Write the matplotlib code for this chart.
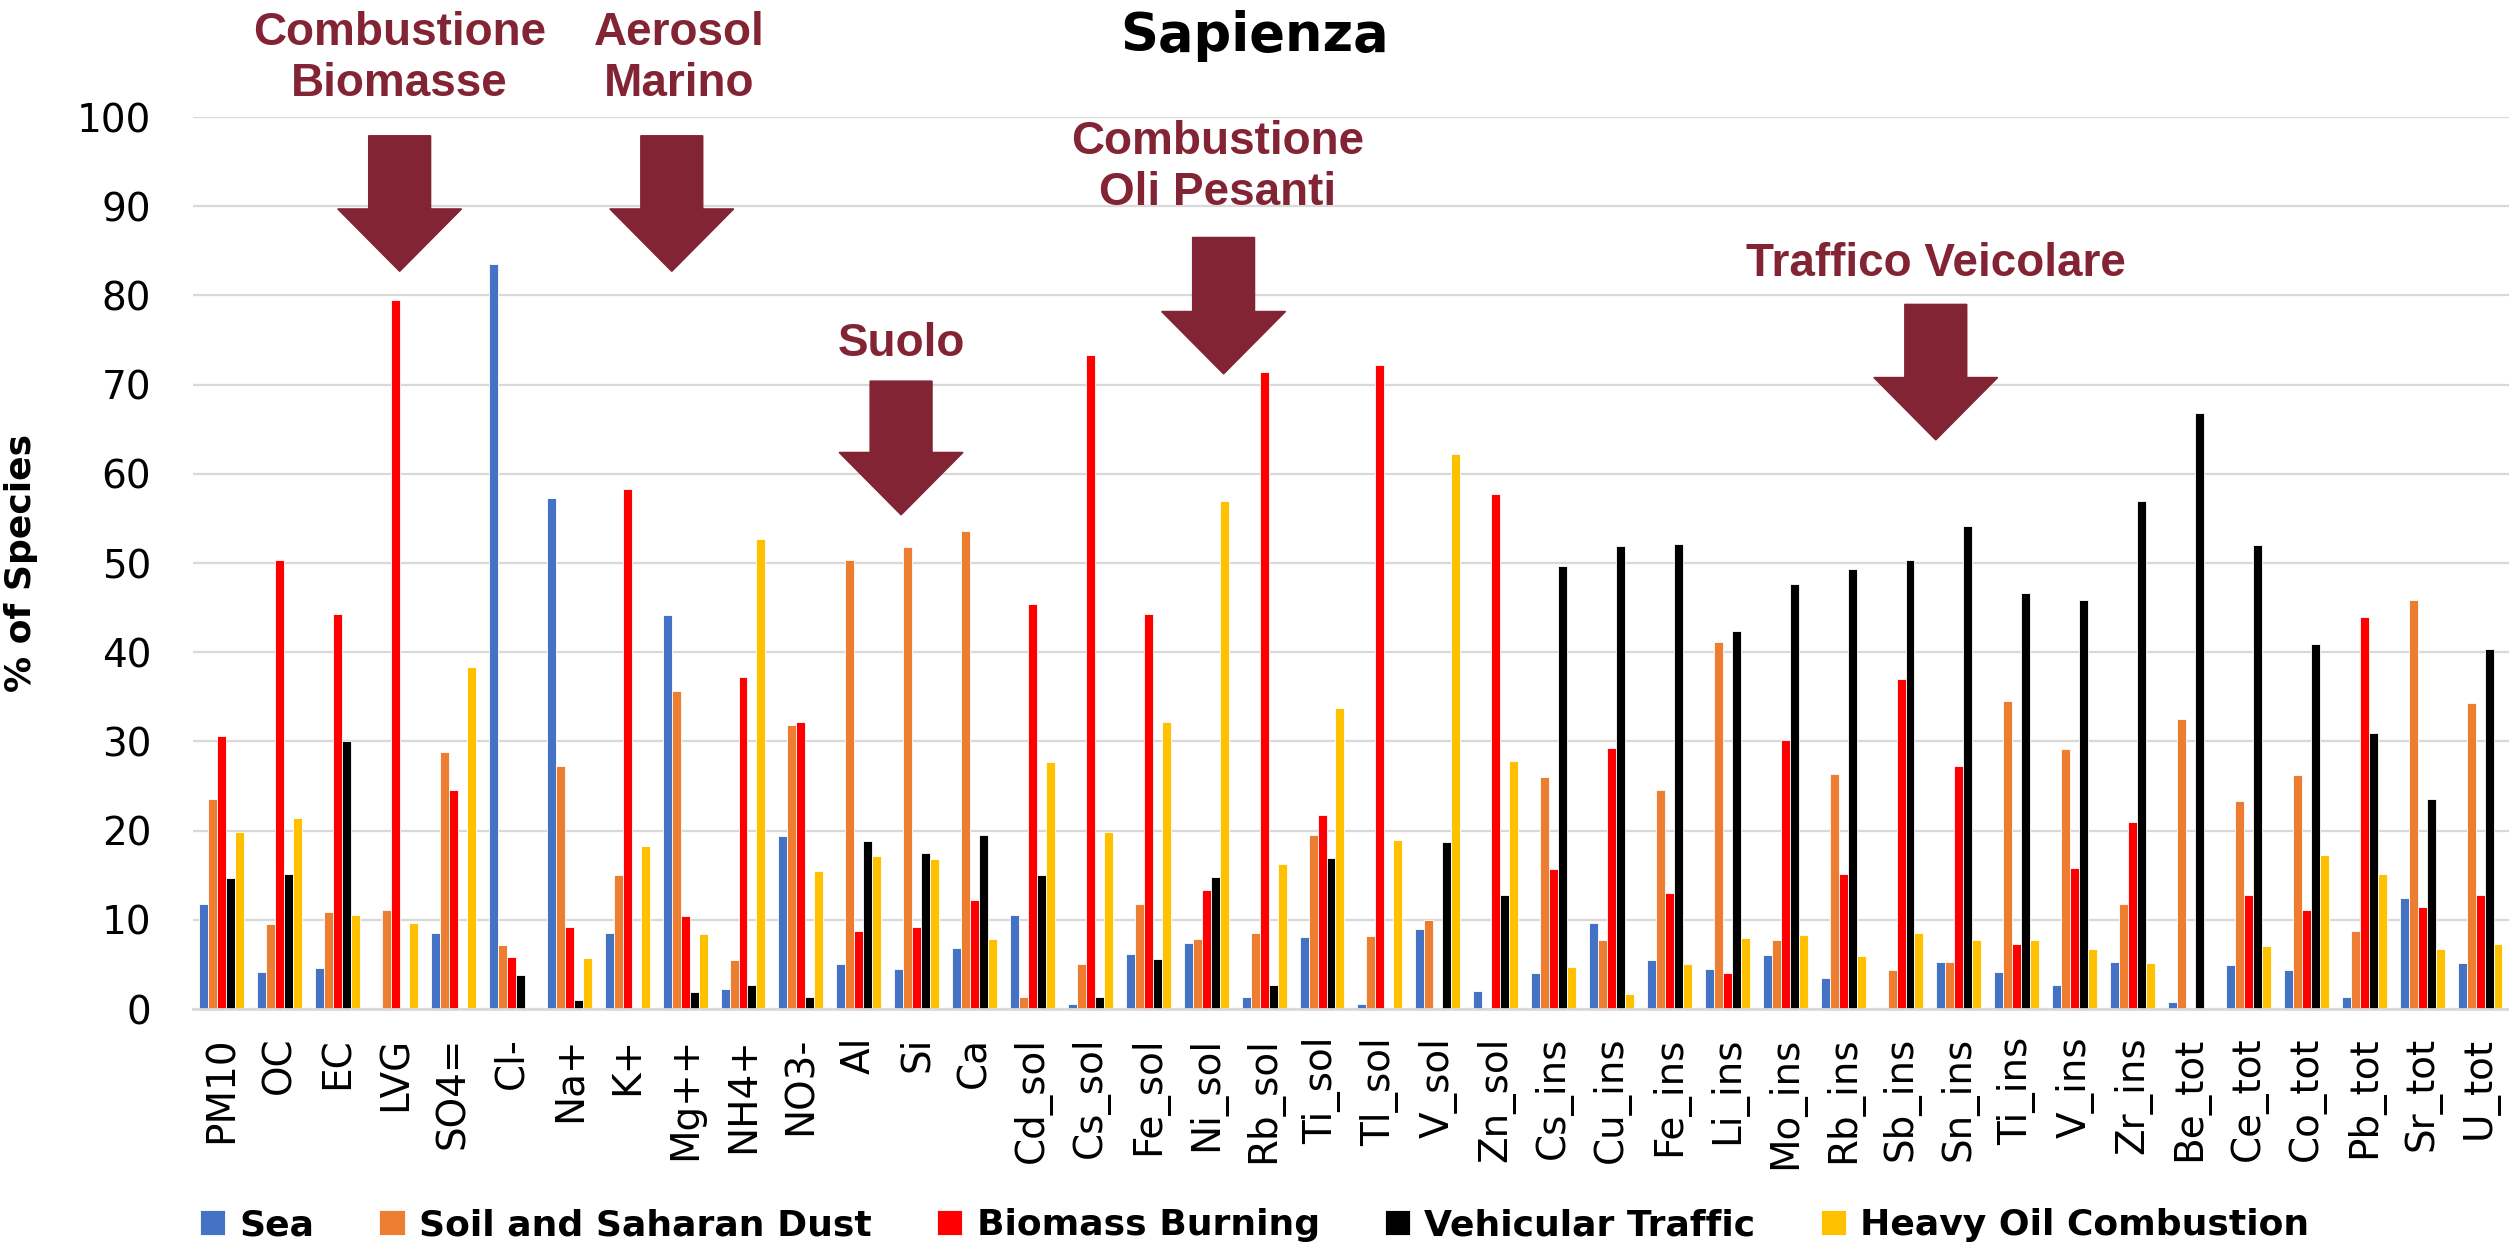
import matplotlib
matplotlib.use("Agg")
import matplotlib.pyplot as plt
from matplotlib.patches import FancyArrow
import numpy as np

species = ["PM10", "OC", "EC", "LVG", "SO4=", "Cl-", "Na+", "K+", "Mg++", "NH4+", "NO3-",
           "Al", "Si", "Ca", "Cd_sol", "Cs_sol", "Fe_sol", "Ni_sol", "Rb_sol", "Ti_sol",
           "Tl_sol", "V_sol", "Zn_sol", "Cs_ins", "Cu_ins", "Fe_ins", "Li_ins", "Mo_ins",
           "Rb_ins", "Sb_ins", "Sn_ins", "Ti_ins", "V_ins", "Zr_ins", "Be_tot", "Ce_tot",
           "Co_tot", "Pb_tot", "Sr_tot", "U_tot"]

sea = [11.8, 4.1, 4.6, 0, 8.5, 83.5, 57.3, 8.5, 44.2, 2.2, 19.4, 5.1, 4.5, 6.8, 10.5, 0.6,
       6.2, 7.4, 1.3, 8.1, 0.6, 9.0, 2.0, 4.0, 9.7, 5.5, 4.5, 6.1, 3.5, 0, 5.3, 4.1, 2.7,
       5.3, 0.8, 4.9, 4.4, 1.3, 12.5, 5.2]
soil = [23.6, 9.5, 10.9, 11.1, 28.8, 7.2, 27.3, 15.0, 35.6, 5.5, 31.8, 50.3, 51.8, 53.6,
        1.4, 5.1, 11.8, 7.8, 8.5, 19.5, 8.2, 10.0, 0, 26.0, 7.7, 24.5, 41.1, 7.7, 26.4, 4.4,
        5.3, 34.5, 29.1, 11.8, 32.5, 23.3, 26.2, 8.7, 45.9, 34.3]
biomass = [30.6, 50.3, 44.3, 79.5, 24.6, 5.8, 9.2, 58.3, 10.4, 37.2, 32.2, 8.7, 9.2, 12.2,
           45.4, 73.3, 44.3, 13.3, 71.4, 21.7, 72.2, 0, 57.7, 15.7, 29.3, 13.0, 4.0, 30.2,
           15.1, 37.0, 27.3, 7.3, 15.8, 21.0, 0, 12.8, 11.1, 44.0, 11.4, 12.8]
vehicular = [14.7, 15.1, 30.0, 0, 0, 3.8, 1.0, 0, 1.9, 2.7, 1.4, 18.8, 17.5, 19.5, 15.0, 1.3,
             5.6, 14.8, 2.7, 16.9, 0, 18.7, 12.8, 49.7, 51.9, 52.1, 42.4, 47.6, 49.3, 50.3,
             54.2, 46.6, 45.8, 56.9, 66.8, 52.0, 40.9, 31.0, 23.5, 40.4]
heavy_oil = [19.8, 21.4, 10.5, 9.6, 38.3, 0, 5.7, 18.3, 8.4, 52.7, 15.5, 17.2, 16.8, 7.8,
             27.7, 19.9, 32.2, 57.0, 16.3, 33.8, 19.0, 62.2, 27.8, 4.7, 1.7, 5.1, 8.0, 8.3,
             6.0, 8.5, 7.7, 7.7, 6.7, 5.2, 0, 7.1, 17.3, 15.1, 6.7, 7.3]

series_names = ["Sea", "Soil and Saharan Dust", "Biomass Burning", "Vehicular Traffic",
                "Heavy Oil Combustion"]
series_colors = ["#4472C4", "#ED7D31", "#FF0000", "#000000", "#FFC000"]

# annotations: (text, x in category units, y in %)
labels = [("Combustione\nBiomasse", 3.07, 106.6),
          ("Aerosol\nMarino", 7.9, 106.6),
          ("Suolo", 11.73, 74.5),
          ("Combustione\nOli Pesanti", 17.2, 94.3),
          ("Traffico Veicolare", 29.6, 83.5)]
# arrows: (x center, top, tip)
arrows = [(3.07, 97.9, 82.7), (7.77, 97.9, 82.7), (11.73, 70.4, 55.4),
          (17.3, 86.5, 71.2), (29.6, 79.0, 63.8)]

ann_color = "#822433"

fig = plt.figure(figsize=(25.09, 12.53), dpi=100)
ax = fig.add_axes([0.0769, 0.1947, 0.9231, 0.7119])

x = np.arange(len(species))
w = 0.155
data = [sea, soil, biomass, vehicular, heavy_oil]
for i, vals in enumerate(data):
    ax.bar(x + (i - 2) * w, vals, width=w, color=series_colors[i], label=series_names[i],
           edgecolor="white", linewidth=0.6, zorder=3)

ax.set_xlim(-0.5, len(species) - 0.5)
ax.set_ylim(0, 100)
ax.set_yticks(np.arange(0, 101, 10))
ax.grid(axis="y", color="#D9D9D9", linewidth=1.6, zorder=0)
for s in ["top", "right", "left"]:
    ax.spines[s].set_visible(False)
ax.spines["bottom"].set_color("#D9D9D9")
ax.spines["bottom"].set_linewidth(2)
ax.spines["bottom"].set_zorder(4)

ax.set_xticks(x)
ax.set_xticklabels(species, rotation=90, fontsize=28)
ax.tick_params(axis="x", length=0, pad=20)
ax.tick_params(axis="y", length=0, pad=30, labelsize=28)

ax.set_ylabel("% of Species", fontsize=26, fontweight="bold")
ax.yaxis.set_label_coords(-0.067, 0.5)

fig.text(0.5, 0.971, "Sapienza", fontsize=38, fontweight="bold", ha="center", va="center")

for txt, lx, ly in labels:
    ax.text(lx, ly, txt, fontsize=33, fontweight="bold", color=ann_color,
            family="Liberation Sans", ha="center", va="center", linespacing=1.2,
            clip_on=False, zorder=6)

for ax_x, top, tip in arrows:
    arr = FancyArrow(ax_x, top, 0, tip - top, width=1.07, head_width=2.14,
                     head_length=7.0, length_includes_head=True,
                     color=ann_color, clip_on=False, zorder=6)
    ax.add_patch(arr)

leg = fig.legend(loc="center", bbox_to_anchor=(0.5, 0.022), ncol=5, frameon=False,
                 prop={"weight": "bold", "size": 26}, handlelength=0.7, handleheight=0.7,
                 handletextpad=0.4, columnspacing=1.8)

fig.savefig("out.png", dpi=100)
